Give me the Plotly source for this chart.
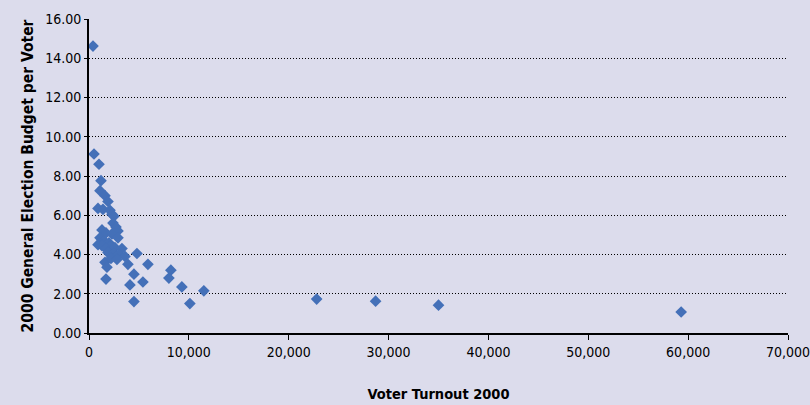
import plotly.graph_objects as go

turnout = [400, 500, 1000, 1200, 1100, 1600, 1900, 900, 1400, 2100, 2300, 2500, 2400, 2700,
           2900, 1300, 1700, 2300, 2900, 1100, 1500, 2000, 900, 1300, 2200, 1700, 2600, 3300,
           1900, 2500, 3000, 3600, 4800, 1600, 2200, 2800, 3900, 5900, 1800, 4500, 1700, 4100,
           5400, 8200, 8000, 9300, 11500, 4500, 10100, 22800, 28700, 35000, 59300]
budget = [14.62, 9.12, 8.6, 7.76, 7.25, 7.0, 6.7, 6.35, 6.3, 6.25, 6.05, 5.95, 5.6, 5.4,
          5.2, 5.25, 5.1, 5.05, 4.85, 4.85, 4.7, 4.6, 4.5, 4.45, 4.45, 4.3, 4.35, 4.3,
          4.1, 4.05, 4.0, 3.9, 4.05, 3.6, 3.8, 3.75, 3.5, 3.5, 3.35, 3.0, 2.75, 2.45,
          2.6, 3.2, 2.8, 2.35, 2.15, 1.6, 1.5, 1.73, 1.62, 1.42, 1.07]

x_title = "Voter Turnout 2000"
y_title = "2000 General Election Budget per Voter"

FONT = "DejaVu Sans Condensed"
BG = "#DCDCEC"

fig = go.Figure(go.Scatter(
    x=turnout, y=budget, mode="markers",
    marker=dict(symbol="diamond", size=9, color="#4470B8", line=dict(width=0)),
))

fig.update_layout(
    width=810, height=405,
    paper_bgcolor=BG, plot_bgcolor=BG,
    margin=dict(l=89, r=22, t=19, b=72),
    showlegend=False,
    font=dict(family=FONT, size=14, color="#000000"),
)
fig.update_xaxes(
    range=[0, 70000], tickvals=[0, 10000, 20000, 30000, 40000, 50000, 60000, 70000],
    tickformat=",d", showgrid=False, zeroline=False, automargin=False,
    ticklabeloverflow="allow",
    showline=True, linecolor="#000000", linewidth=2,
    ticks="outside", ticklen=5, tickwidth=1, tickcolor="#000000",
    title=dict(text="<b>" + x_title + "</b>", font=dict(family=FONT, size=14.5), standoff=30),
    tickfont=dict(family=FONT, size=14),
)
fig.update_yaxes(
    range=[0, 16], tickvals=[0, 2, 4, 6, 8, 10, 12, 14, 16], tickformat=".2f",
    showgrid=True, gridcolor="#000000", griddash="1px,2px", gridwidth=1, zeroline=False,
    automargin=False, ticklabeloverflow="allow",
    showline=True, linecolor="#000000", linewidth=2,
    ticks="outside", ticklen=3, tickwidth=1, tickcolor="#000000",
    title=dict(text="<b>" + y_title + "</b>", font=dict(family=FONT, size=15.5), standoff=8),
    tickfont=dict(family=FONT, size=14),
)

fig.write_html(
    "out.html",
    config={"displayModeBar": False},
    post_script="document.body.style.margin='0';document.body.style.background='" + BG + "';",
)
